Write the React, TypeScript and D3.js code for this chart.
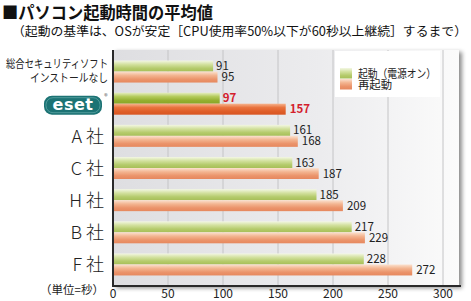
import React from "react";
import * as d3 from "d3";

const categories = ["総合セキュリティソフト\nインストールなし", "ESET", "A 社", "C 社", "H 社", "B 社", "F 社"];
const startValues = [91, 97, 161, 163, 185, 217, 228];
const restartValues = [95, 157, 168, 187, 209, 229, 272];
const xTicks = [0, 50, 100, 150, 200, 250, 300];
const legendLabels = ["起動（電源オン）", "再起動"];
const title = "■パソコン起動時間の平均値";
const subtitle = "（起動の基準は、OSが安定［CPU使用率50%以下が60秒以上継続］するまで）";
const unitLabel = "（単位=秒）";

const FONT = "'Noto Sans CJK JP', 'Noto Sans', sans-serif";

export default function App() {
  const W = 471, H = 301;
  const x = d3.scaleLinear().domain([0, 300]).range([113, 443]);
  const plotTop = 50, plotBottom = 286, plotRight = 459;
  const y = d3.scaleBand<string>().domain(categories).range([plotTop, plotBottom]).paddingInner(0).paddingOuter(0.17);
  const barH = 11;
  const multiWidths = [102, 78];

  return (
    <svg width={W} height={H} style={{ position: "absolute", left: 0, top: 0, background: "#fff" }}>
      <defs>
        <linearGradient id="bg" x1="0" x2="1" y1="0" y2="0">
          <stop offset="0" stopColor="#dedee1" />
          <stop offset="0.6" stopColor="#ececee" />
          <stop offset="1" stopColor="#fbfbfb" />
        </linearGradient>
        <linearGradient id="gG" x1="0" x2="0" y1="0" y2="1">
          <stop offset="0" stopColor="#f3f7e4" />
          <stop offset="0.35" stopColor="#d3e19f" />
          <stop offset="0.7" stopColor="#b5cb6c" />
          <stop offset="1" stopColor="#a7bf58" />
        </linearGradient>
        <linearGradient id="gR" x1="0" x2="0" y1="0" y2="1">
          <stop offset="0" stopColor="#fbe2d0" />
          <stop offset="0.35" stopColor="#f3b591" />
          <stop offset="0.7" stopColor="#eb946b" />
          <stop offset="1" stopColor="#e6885e" />
        </linearGradient>
        <linearGradient id="gGE" x1="0" x2="0" y1="0" y2="1">
          <stop offset="0" stopColor="#e5eec0" />
          <stop offset="0.35" stopColor="#b4cb5c" />
          <stop offset="0.7" stopColor="#94b031" />
          <stop offset="1" stopColor="#88a526" />
        </linearGradient>
        <linearGradient id="gRE" x1="0" x2="0" y1="0" y2="1">
          <stop offset="0" stopColor="#f6b48e" />
          <stop offset="0.35" stopColor="#e9733e" />
          <stop offset="0.7" stopColor="#df5e28" />
          <stop offset="1" stopColor="#d85522" />
        </linearGradient>
        <filter id="sh" x="-5%" y="-5%" width="115%" height="115%">
          <feDropShadow dx="3" dy="2" stdDeviation="2" floodColor="#000" floodOpacity="0.45" />
        </filter>
      </defs>

      <text x={2} y={19} fontFamily={FONT} fontSize={17} fontWeight="bold" fill="#111" textLength={211} lengthAdjust="spacingAndGlyphs">{title}</text>
      <text x={12} y={36} fontFamily={FONT} fontSize={12.5} fill="#111" textLength={455} lengthAdjust="spacingAndGlyphs">{subtitle}</text>

      <rect x={113} y={plotTop} width={plotRight - 113} height={plotBottom - plotTop} fill="url(#bg)" filter="url(#sh)" />

      {xTicks.slice(1).map(t => (
        <line key={t} x1={x(t)} x2={x(t)} y1={plotTop} y2={plotBottom} stroke="#c4c4c6" strokeWidth={1} />
      ))}

      <rect x={335} y={plotTop + 1} width={105} height={46} fill="#fff" />
      <rect x={340} y={68} width={12} height={10.5} fill="url(#gG)" />
      <rect x={340} y={79} width={12} height={10.5} fill="url(#gR)" />
      <text x={358} y={77.5} fontFamily={FONT} fontSize={11.5} fill="#222" textLength={78} lengthAdjust="spacingAndGlyphs">{legendLabels[0]}</text>
      <text x={358} y={89} fontFamily={FONT} fontSize={11.5} fill="#222" textLength={34} lengthAdjust="spacingAndGlyphs">{legendLabels[1]}</text>

      {categories.map((c, i) => {
        const y0 = (y(c) as number) + y.bandwidth() / 2;
        const isE = c === "ESET";
        const gv = startValues[i], rv = restartValues[i];
        return (
          <g key={c}>
            <rect x={x(0)} y={y0 - barH} width={x(gv) - x(0)} height={barH} fill={isE ? "url(#gGE)" : "url(#gG)"} />
            <rect x={x(0)} y={y0} width={x(rv) - x(0)} height={barH} fill={isE ? "url(#gRE)" : "url(#gR)"} />
            <text x={x(gv) + 3} y={y0 - 1.5} fontFamily={FONT} fontSize={11.5} fontWeight={isE ? "bold" : "normal"} fill={isE ? "#d4202c" : "#222"}>{gv}</text>
            <text x={x(rv) + 4} y={y0 + 9.5} fontFamily={FONT} fontSize={11.5} fontWeight={isE ? "bold" : "normal"} fill={isE ? "#d4202c" : "#222"}>{rv}</text>
            {isE ? (
              <g>
                <rect x={44} y={y0 - 8} width={58} height={19} rx={8} fill="#1c7374" />
                <rect x={46} y={y0 - 6} width={54} height={15} rx={7} fill="none" stroke="#5aa3a3" strokeWidth={0.8} />
                <text x={73} y={y0 + 6.5} textAnchor="middle" fontFamily="'DejaVu Sans', sans-serif" fontSize={16} fontWeight="bold" fill="#fff" letterSpacing={0.5}>eset</text>
                <text x={106} y={y0 - 5} textAnchor="middle" fontFamily={FONT} fontSize={7} fill="#555">®</text>
              </g>
            ) : c.includes("\n") ? (
              c.split("\n").map((l, k) => (
                <text key={k} x={108 - multiWidths[k]} y={y0 - 4 + k * 14} fontFamily={FONT} fontSize={11.5} fill="#222" textLength={multiWidths[k]} lengthAdjust="spacingAndGlyphs">{l}</text>
              ))
            ) : (
              <text x={104} y={y0 + 7} textAnchor="end" fontFamily={FONT} fontSize={18} fontWeight={300} fill="#222">{c}</text>
            )}
          </g>
        );
      })}

      <line x1={113} x2={113} y1={plotTop} y2={plotBottom + 1} stroke="#2a2a2a" strokeWidth={2} />
      <line x1={112} x2={plotRight + 2} y1={plotBottom} y2={plotBottom} stroke="#2a2a2a" strokeWidth={2} />

      {xTicks.map(t => (
        <text key={t} x={x(t)} y={298} textAnchor="middle" fontFamily={FONT} fontSize={12} fill="#222">{t}</text>
      ))}
      <text x={104} y={294} textAnchor="end" fontFamily={FONT} fontSize={11.5} fill="#222">{unitLabel}</text>
    </svg>
  );
}
